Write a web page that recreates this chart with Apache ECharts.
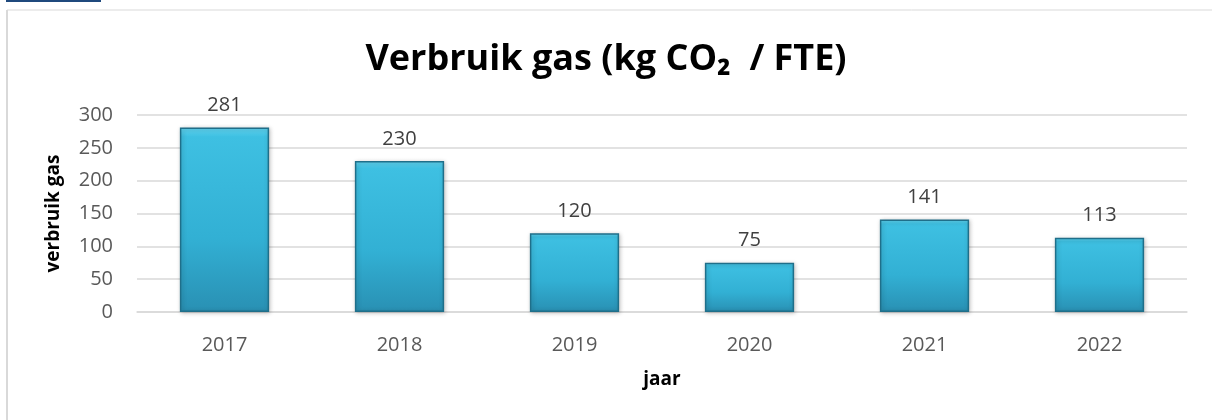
<!DOCTYPE html>
<html>
<head>
<meta charset="utf-8">
<script src="https://cdn.jsdelivr.net/npm/echarts@6/dist/echarts.min.js"></script>
<style>
  html, body { margin: 0; padding: 0; background: #fff; }
  #chart { width: 1212px; height: 420px; }
</style>
</head>
<body>
<div id="chart"></div>
<script>
// jaren en verbruik gas
var years = ['2017', '2018', '2019', '2020', '2021', '2022'];
var gasUse = [281, 230, 120, 75, 141, 113];
var yTicks = [0, 50, 100, 150, 200, 250, 300];

var chart = echarts.init(document.getElementById('chart'));

var option = {
  animation: false,
  backgroundColor: '#fff',
  textStyle: { fontFamily: 'Open Sans' },
  title: {
    text: 'Verbruik gas (kg CO₂  / FTE)',
    left: 'center',
    top: 37,
    textStyle: { fontSize: 36, fontWeight: 'bold', color: '#000', fontFamily: 'Open Sans' }
  },
  graphic: [
    // kader rond de grafiek
    { type: 'rect', shape: { x: 7, y: 10, width: 1220, height: 420 },
      style: { fill: 'none', stroke: '#d9d9d9', lineWidth: 1 } },
    { type: 'rect', shape: { x: 6, y: 10, width: 2, height: 410 },
      style: { fill: '#d9d9d9' } },
    { type: 'rect', shape: { x: 6, y: 0, width: 95, height: 2 },
      style: { fill: '#1f497d' } }
  ],
  grid: { left: 137, right: 25, top: 115, bottom: 108 },
  xAxis: {
    type: 'category',
    data: years,
    name: 'jaar',
    nameLocation: 'middle',
    nameGap: 58,
    nameTextStyle: { fontSize: 19, fontWeight: 'bold', color: '#000' },
    axisLine: { lineStyle: { color: '#d9d9d9', width: 1.5 } },
    axisTick: { show: false },
    axisLabel: { fontSize: 20, color: '#595959', margin: 23 }
  },
  yAxis: {
    type: 'value',
    min: 0,
    max: 300,
    interval: 50,
    name: 'verbruik gas',
    nameLocation: 'middle',
    nameRotate: 90,
    nameGap: 74,
    nameTextStyle: { fontSize: 19, fontWeight: 'bold', color: '#000' },
    axisLine: { show: false },
    axisTick: { show: false },
    axisLabel: {
      fontSize: 20, color: '#595959', margin: 24,
      formatter: function (v) { return yTicks.indexOf(v) >= 0 ? String(v) : ''; }
    },
    splitLine: { lineStyle: { color: '#d9d9d9', width: 1.5 } }
  },
  series: [{
    type: 'bar',
    data: gasUse,
    barCategoryGap: '49%',
    itemStyle: {
      color: {
        type: 'linear', x: 0, y: 0, x2: 0, y2: 1,
        colorStops: [
          { offset: 0, color: '#63d6f2' },
          { offset: 0.05, color: '#3ec0e2' },
          { offset: 0.6, color: '#32b0d4' },
          { offset: 1, color: '#2990b3' }
        ]
      },
      borderColor: '#1f6f8a',
      borderWidth: 1.5,
      shadowColor: 'rgba(0,0,0,0.25)',
      shadowBlur: 4,
      shadowOffsetX: 1,
      shadowOffsetY: 1
    },
    label: {
      show: true,
      position: 'top',
      distance: 12,
      fontSize: 20,
      color: '#404040'
    }
  }]
};

chart.setOption(option);
</script>
</body>
</html>
